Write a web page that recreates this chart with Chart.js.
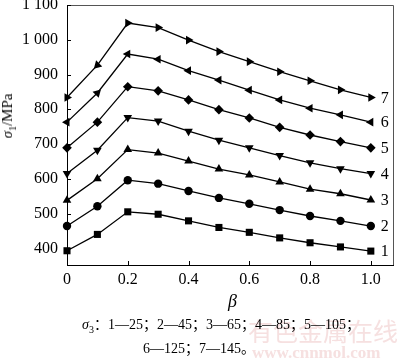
<!DOCTYPE html>
<html>
<head>
<meta charset="utf-8">
<script src="https://cdn.jsdelivr.net/npm/chart.js@4.4.1/dist/chart.umd.min.js"></script>
<style>
body { margin: 0; background: #fff; }
#wrap { position: relative; width: 400px; height: 362px; }
.t { position: absolute; font-family: "Liberation Serif", "Noto Sans CJK SC", serif; color: #000; white-space: nowrap; line-height: 1; }
.cap { font-size: 14px; transform: translateX(-50%); }
.wm { position: absolute; color: #f6e0e0; font-family: "Noto Sans CJK SC", sans-serif; white-space: nowrap; line-height: 1; }
</style>
</head>
<body>
<div id="wrap">
  <canvas id="chart" width="400" height="362"></canvas>
  <div class="t" style="left:9px;top:116px;font-size:15px;transform:translate(-50%,-50%) rotate(-90deg);"><i>σ</i><sub style="font-size:10px">1</sub>/MPa</div>
  <div class="t" style="left:228px;top:292px;font-size:18px;"><i>β</i></div>
  <div class="wm" style="left:248px;top:318px;font-size:25px;">有色金属在线</div>
  <div class="wm" style="left:252px;top:344px;font-size:17px;font-family:'Liberation Serif',serif;font-weight:bold;">www.cnnmol.com</div>
  <div class="t cap" style="left:221px;top:318px;"><i>σ</i><sub style="font-size:10px">3</sub>：1—25；2—45；3—65；4—85；5—105；</div>
  <div class="t cap" style="left:199px;top:342px;">6—125；7—145。</div>
</div>
<script>
const betaValues = [0, 0.1, 0.2, 0.3, 0.4, 0.5, 0.6, 0.7, 0.8, 0.9, 1.0];
const sigma1_25  = [393, 440, 505, 498, 479, 460, 446, 430, 416, 404, 392];
const sigma1_45  = [464, 521, 596, 586, 565, 545, 528, 510, 493, 479, 464];
const sigma1_65  = [538, 600, 684, 674, 651, 628, 611, 591, 570, 557, 539];
const sigma1_85  = [615, 682, 776, 766, 737, 711, 689, 667, 646, 629, 615];
const sigma1_105 = [689, 763, 865, 853, 827, 799, 775, 748, 726, 707, 689];
const sigma1_125 = [763, 847, 959, 944, 911, 884, 855, 827, 803, 784, 763];
const sigma1_145 = [834, 927, 1048, 1035, 999, 966, 937, 908, 882, 856, 834];
const curveNames = ['1', '2', '3', '4', '5', '6', '7'];
const xTicks = [0, 0.2, 0.4, 0.6, 0.8, 1.0];
const yTicks = [400, 500, 600, 700, 800, 900, 1000, 1100];

const allSeries = [sigma1_25, sigma1_45, sigma1_65, sigma1_85, sigma1_105, sigma1_125, sigma1_145];
const markers = [
    { style: 'rect', r: 5, rot: 0 },
    { style: 'circle', r: 4.2, rot: 0 },
    { style: 'triangle', r: 5, rot: 0 },
    { style: 'triangle', r: 5, rot: 180 },
    { style: 'rectRot', r: 4.8, rot: 0 },
    { style: 'triangle', r: 5, rot: 270, first: 45 },
    { style: 'triangle', r: 5, rot: 90, first: 225 },
];

const serif = '"Liberation Serif", serif';

const datasets = allSeries.map((vals, i) => ({
    label: curveNames[i],
    data: vals.map((v, k) => ({ x: betaValues[k], y: v })),
    borderColor: '#000',
    backgroundColor: '#000',
    borderWidth: 1.3,
    pointStyle: markers[i].style,
    pointRadius: markers[i].r,
    pointBorderWidth: 0,
    pointRotation: (ctx) => (ctx.dataIndex === 1 && markers[i].first !== undefined) ? markers[i].first : markers[i].rot,
    tension: 0,
    clip: false,
}));

// frame, inward ticks and curve numbers at the right
const extras = {
    id: 'extras',
    afterDraw(chart) {
        const { ctx, chartArea: a, scales } = chart;
        ctx.save();
        ctx.strokeStyle = '#555';
        ctx.lineWidth = 1;
        ctx.beginPath();
        ctx.moveTo(a.left, a.top + 0.5);
        ctx.lineTo(a.right + 0.5, a.top + 0.5);
        ctx.lineTo(a.right + 0.5, a.bottom);
        ctx.stroke();
        ctx.strokeStyle = '#000';
        ctx.beginPath();
        xTicks.forEach(v => {
            const x = Math.round(scales.x.getPixelForValue(v)) + 0.5;
            ctx.moveTo(x, a.bottom);
            ctx.lineTo(x, a.bottom - 4);
        });
        yTicks.forEach(v => {
            const y = Math.round(scales.y.getPixelForValue(v)) + 0.5;
            ctx.moveTo(a.left, y);
            ctx.lineTo(a.left + 4, y);
        });
        ctx.stroke();
        ctx.fillStyle = '#000';
        ctx.font = '16px ' + serif;
        ctx.textAlign = 'left';
        ctx.textBaseline = 'middle';
        allSeries.forEach((vals, i) => {
            const last = vals.length - 1;
            ctx.fillText(curveNames[i],
                scales.x.getPixelForValue(betaValues[last]) + 10,
                scales.y.getPixelForValue(vals[last]) + 1);
        });
        ctx.restore();
    }
};

new Chart(document.getElementById('chart'), {
    type: 'line',
    data: { datasets },
    plugins: [extras],
    options: {
        responsive: false,
        animation: false,
        layout: { padding: { left: 0, top: 5, right: 7, bottom: 0 } },
        plugins: { legend: { display: false }, tooltip: { enabled: false } },
        scales: {
            x: {
                type: 'linear',
                min: 0,
                max: 1.073,
                afterBuildTicks: (s) => { s.ticks = xTicks.map(v => ({ value: v })); },
                afterFit: (s) => { s.height = 97; s.paddingLeft = 0; s.paddingRight = 0; },
                grid: { display: false, drawTicks: false },
                border: { display: true, color: '#000', width: 1 },
                ticks: {
                    padding: 5,
                    color: '#000',
                    font: { family: serif, size: 16 },
                    maxRotation: 0,
                    callback: (v) => v === 0 ? '0' : Number(v).toFixed(1),
                },
            },
            y: {
                min: 352,
                max: 1100,
                afterBuildTicks: (s) => { s.ticks = yTicks.map(v => ({ value: v })); },
                afterFit: (s) => { s.width = 67; s.paddingTop = 0; s.paddingBottom = 0; },
                grid: { display: false, drawTicks: false },
                border: { display: true, color: '#000', width: 1 },
                ticks: {
                    padding: 9,
                    color: '#000',
                    font: { family: serif, size: 16 },
                    callback: (v) => v >= 1000 ? String(v).replace(/^(\d)/, '$1 ') : String(v),
                },
            },
        },
    },
});
</script>
</body>
</html>
